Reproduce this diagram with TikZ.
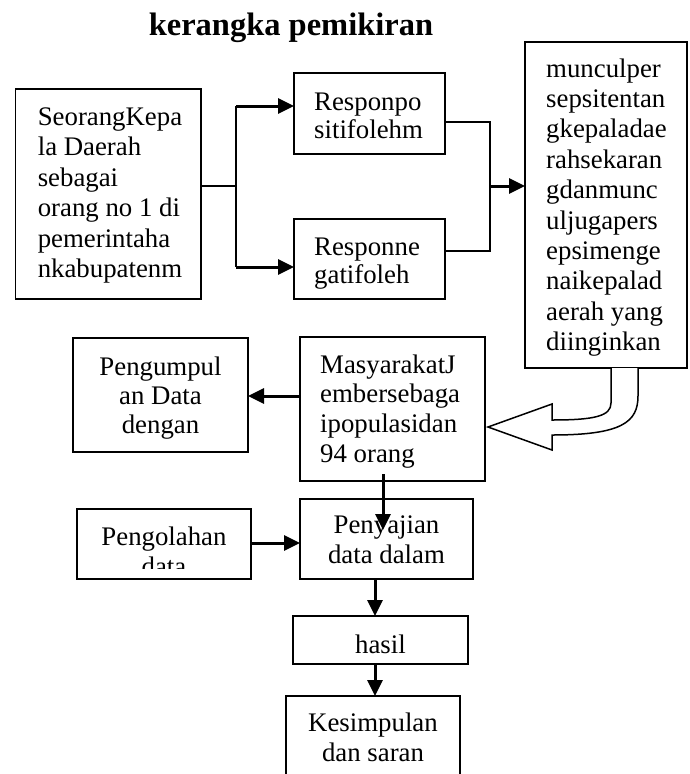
\documentclass[tikz,border=0pt]{standalone}
\usepackage{fontspec}
\setmainfont{Liberation Serif}
\usetikzlibrary{arrows.meta}
\begin{document}
\begin{tikzpicture}[x=1pt,y=-1pt,
  box/.style={draw, line width=1.8pt, inner sep=0pt, outer sep=0pt, anchor=north west},
  txt/.style={inner sep=0pt, anchor=base west, font=\fontsize{26.8}{30.5}\selectfont},
  ctxt/.style={inner sep=0pt, anchor=base, font=\fontsize{26.8}{30}\selectfont},
  arr/.style={line width=3pt, -{Triangle[length=16pt,width=15pt]}},
  con/.style={line width=2pt},
  hollow/.style={draw, line width=1.5pt, fill=white, line join=miter}]
\useasboundingbox (0,0) rectangle (690,774);

% title
\node[inner sep=0pt, anchor=base, font=\fontsize{32.5}{36}\selectfont\bfseries] (title) at (291,35) {kerangka pemikiran};

% boxes
\node[box, minimum width=185.5pt, minimum height=210pt] (A) at (15.5,89) {};
\node[box, minimum width=151pt, minimum height=81pt] (B) at (294,73) {};
\node[box, minimum width=151pt, minimum height=80pt] (C) at (294,219) {};
\node[box, minimum width=162pt, minimum height=326pt] (D) at (525,42) {};
\node[box, minimum width=175pt, minimum height=114pt] (E) at (73,338) {};
\node[box, minimum width=185pt, minimum height=144pt] (F) at (300,337) {};
\node[box, minimum width=173pt, minimum height=80pt] (G) at (300,499) {};
\node[box, minimum width=174pt, minimum height=70pt] (H) at (77,509) {};
\node[box, minimum width=175pt, minimum height=48pt] (I) at (293,616) {};
\node[box, minimum width=174pt, minimum height=110pt] (J) at (286,696) {};

% texts
\node[txt] (At) at (37.6,125) {\parbox[t]{170pt}{\raggedright SeorangKepa\\la Daerah\\sebagai\\orang no 1 di\\pemerintaha\\nkabupatenm}};
\node[txt, font=\fontsize{26.8}{28.4}\selectfont] (Bt) at (314,110) {\parbox[t]{130pt}{\raggedright Responpo\\sitifolehm}};
\node[txt, font=\fontsize{26.8}{28.4}\selectfont] (Ct) at (314,255) {\parbox[t]{130pt}{\raggedright Responne\\gatifoleh}};
\node[txt, font=\fontsize{26.8}{30.4}\selectfont] (Dt) at (546,77) {\parbox[t]{140pt}{\raggedright munculper\\sepsitentan\\gkepaladae\\rahsekaran\\gdanmunc\\uljugapers\\epsimenge\\naikepalad\\aerah yang\\diinginkan}};
\node[ctxt, font=\fontsize{26.8}{29}\selectfont] (Et) at (160.5,375) {\parbox[t]{170pt}{\centering Pengumpul\\an Data\\dengan}};
\node[txt, font=\fontsize{26.8}{29.7}\selectfont] (Ft) at (320,373) {\parbox[t]{165pt}{\raggedright MasyarakatJ\\embersebaga\\ipopulasidan\\94 orang}};
\node[ctxt] (Gt) at (386.5,533) {\parbox[t]{170pt}{\centering Penyajian\\data dalam}};
\begin{scope}
  \clip (77,509) rectangle (251,568);
  \node[ctxt] (Ht) at (164,545) {\parbox[t]{170pt}{\centering Pengolahan\\data}};
\end{scope}
\node[ctxt] (It) at (380.5,653) {hasil};
\node[ctxt] (Jt) at (373,731) {\parbox[t]{170pt}{\centering Kesimpulan\\dan saran}};

% connectors top
\coordinate (jA) at (236,186);
\coordinate (jB) at (236,106);
\coordinate (jC) at (236,267);
\draw[con] (A.east |- jA) -- (jA);
\draw[con] (jB) -- (jC);
\draw[arr] (jB) -- (B.west |- jB);
\draw[arr] (jC) -- (C.west |- jC);
\coordinate (kB) at (490,122);
\coordinate (kC) at (490,251);
\coordinate (kD) at (490,186);
\draw[con] (B.east |- kB) -- (kB) -- (kC) -- (C.east |- kC);
\draw[arr] (kD) -- (D.west |- kD);

% hollow curved arrow
\draw[hollow] (611,368) -- (611,403) .. controls (611,416) and (595,420) .. (552,420)
  -- (552,404) -- (488,427) -- (552,450) -- (552,435)
  .. controls (622,435) and (638,422) .. (638,396) -- (638,368);

% lower connectors
\coordinate (fe) at (300,396);
\draw[arr] (F.west |- fe) -- (E.east |- fe);
\coordinate (fg1) at (383,474);
\coordinate (fg2) at (383,530);
\draw[arr] (fg1) -- (fg2);
\coordinate (hg) at (251,543);
\draw[arr] (H.east |- hg) -- (G.west |- hg);
\coordinate (gi) at (375,0);
\draw[arr] (G.south -| gi) -- (I.north -| gi);
\draw[arr] (I.south -| gi) -- (J.north -| gi);
\end{tikzpicture}
\end{document}
